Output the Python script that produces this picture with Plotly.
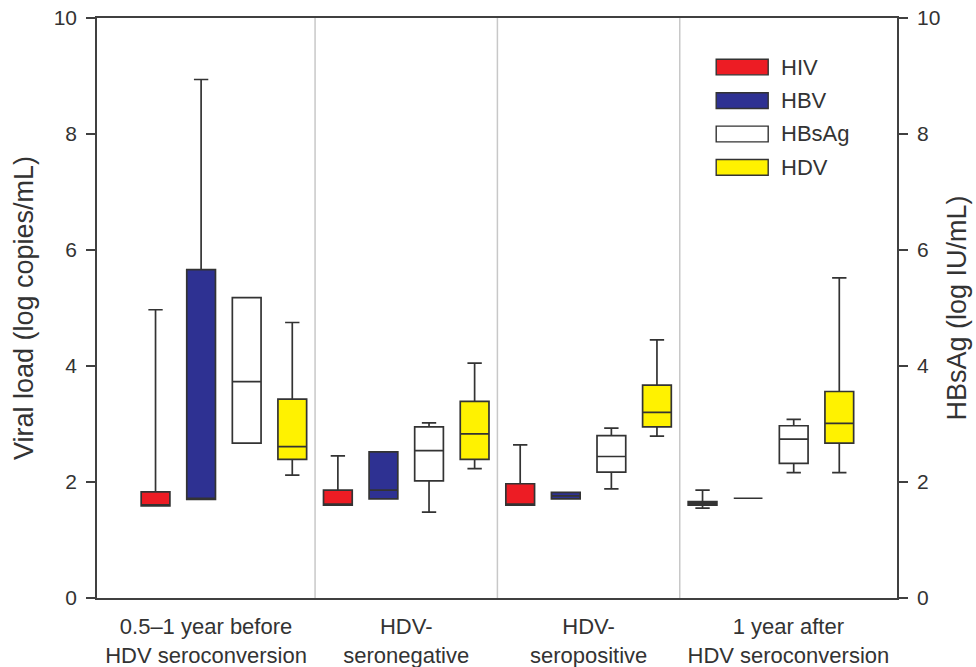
import plotly.graph_objects as go

# ---------------- data ----------------
groups = ["0.5\u20131 year before<br>HDV seroconversion",
          "HDV-<br>seronegative",
          "HDV-<br>seropositive",
          "1 year after<br>HDV seroconversion"]
series = ["HIV", "HBV", "HBsAg", "HDV"]

hiv_lower = [1.59, 1.60, 1.60, 1.55]
hiv_q1 = [1.59, 1.60, 1.60, 1.60]
hiv_median = [1.59, 1.60, 1.60, 1.63]
hiv_q3 = [1.83, 1.86, 1.97, 1.66]
hiv_upper = [4.97, 2.45, 2.64, 1.86]

hbv_lower = [1.70, 1.71, 1.71, 1.72]
hbv_q1 = [1.70, 1.71, 1.71, 1.72]
hbv_median = [1.70, 1.86, 1.76, 1.72]
hbv_q3 = [5.66, 2.52, 1.82, 1.72]
hbv_upper = [8.94, 2.52, 1.82, 1.72]

hbsag_lower = [2.67, 1.48, 1.88, 2.16]
hbsag_q1 = [2.67, 2.02, 2.17, 2.32]
hbsag_median = [3.73, 2.54, 2.44, 2.74]
hbsag_q3 = [5.18, 2.95, 2.80, 2.97]
hbsag_upper = [5.18, 3.02, 2.93, 3.08]

hdv_lower = [2.12, 2.23, 2.79, 2.16]
hdv_q1 = [2.39, 2.39, 2.95, 2.67]
hdv_median = [2.61, 2.83, 3.20, 3.01]
hdv_q3 = [3.43, 3.39, 3.67, 3.56]
hdv_upper = [4.75, 4.05, 4.45, 5.52]

y_ticks = [0, 2, 4, 6, 8, 10]

stats = {
    "HIV": (hiv_lower, hiv_q1, hiv_median, hiv_q3, hiv_upper),
    "HBV": (hbv_lower, hbv_q1, hbv_median, hbv_q3, hbv_upper),
    "HBsAg": (hbsag_lower, hbsag_q1, hbsag_median, hbsag_q3, hbsag_upper),
    "HDV": (hdv_lower, hdv_q1, hdv_median, hdv_q3, hdv_upper),
}
colors = {"HIV": "#ED1C24", "HBV": "#2E3192", "HBsAg": "#FFFFFF", "HDV": "#FFF200"}

# ---------------- figure ----------------
FONT = "Liberation Sans, Arial, sans-serif"
TXT = "#333333"
AX = "#404040"

fig = go.Figure()
n_s = len(series)
for si, name in enumerate(series):
    lo, q1, med, q3, hi = stats[name]
    xs = [1 + n_s * gi + si for gi in range(len(groups))]
    fig.add_trace(go.Box(
        x=xs, lowerfence=lo, q1=q1, median=med, q3=q3, upperfence=hi,
        name=name, fillcolor=colors[name],
        line=dict(color="#333333", width=1.7),
        width=0.63, whiskerwidth=0.5, boxpoints=False,
        showlegend=False, hoverinfo="skip",
    ))

# invisible trace so the right axis is drawn
fig.add_trace(go.Scatter(x=[1], y=[0], yaxis="y2", mode="markers",
                         marker=dict(opacity=0), showlegend=False, hoverinfo="skip"))

x_lo, x_hi = -0.284, 17.266
seps = [n_s * g + 0.5 for g in range(1, len(groups))]
edges = [x_lo] + seps + [x_hi]
centers = [(edges[i] + edges[i + 1]) / 2 for i in range(len(groups))]

for s in seps:
    fig.add_shape(type="line", xref="x", yref="paper", x0=s, x1=s, y0=0, y1=1,
                  line=dict(color="#C8C8C8", width=1.5), layer="below")

# custom legend
leg_y = [0.9155, 0.8575, 0.80, 0.7425]
for name, yc in zip(series, leg_y):
    fig.add_shape(type="rect", xref="paper", yref="paper",
                  x0=0.774, x1=0.839, y0=yc - 0.0135, y1=yc + 0.0135,
                  fillcolor=colors[name], line=dict(color="#333333", width=1.4))
    fig.add_annotation(xref="paper", yref="paper", x=0.852, y=yc, text=name,
                       showarrow=False, xanchor="left", yanchor="middle",
                       font=dict(family=FONT, size=22, color=TXT))

fig.update_layout(
    width=976, height=667,
    margin=dict(l=97, r=79, t=18, b=69, autoexpand=False),
    paper_bgcolor="white", plot_bgcolor="white",
    font=dict(family=FONT, color=TXT),
    boxmode="overlay",
    xaxis=dict(range=[x_lo, x_hi], tickvals=centers, ticktext=groups,
               showgrid=False, zeroline=False, ticks="", automargin=False,
               ticklabelstandoff=8,
               showline=True, linecolor=AX, linewidth=1.6, mirror=True,
               tickfont=dict(family=FONT, size=22, color=TXT)),
    yaxis=dict(range=[0, 10], tickvals=y_ticks, showgrid=False, zeroline=False,
               ticks="outside", ticklen=9, tickwidth=1.5, tickcolor=AX,
               automargin=False, ticklabelstandoff=5,
               showline=True, linecolor=AX, linewidth=1.6,
               tickfont=dict(family=FONT, size=21, color=TXT),
               title=dict(text="Viral load (log copies/mL)", standoff=12,
                          font=dict(family=FONT, size=27, color=TXT))),
    yaxis2=dict(range=[0, 10], tickvals=y_ticks, overlaying="y", side="right",
                showgrid=False, zeroline=False,
                ticks="outside", ticklen=9, tickwidth=1.5, tickcolor=AX,
                automargin=False, ticklabelstandoff=5,
                showline=True, linecolor=AX, linewidth=1.6,
                tickfont=dict(family=FONT, size=21, color=TXT),
                title=dict(text="HBsAg (log IU/mL)", standoff=8,
                           font=dict(family=FONT, size=27, color=TXT))),
)

fig.write_html("out.html",
               config={"displayModeBar": False},
               post_script="document.body.style.margin='0px';"
                           "document.body.style.overflow='hidden';")
